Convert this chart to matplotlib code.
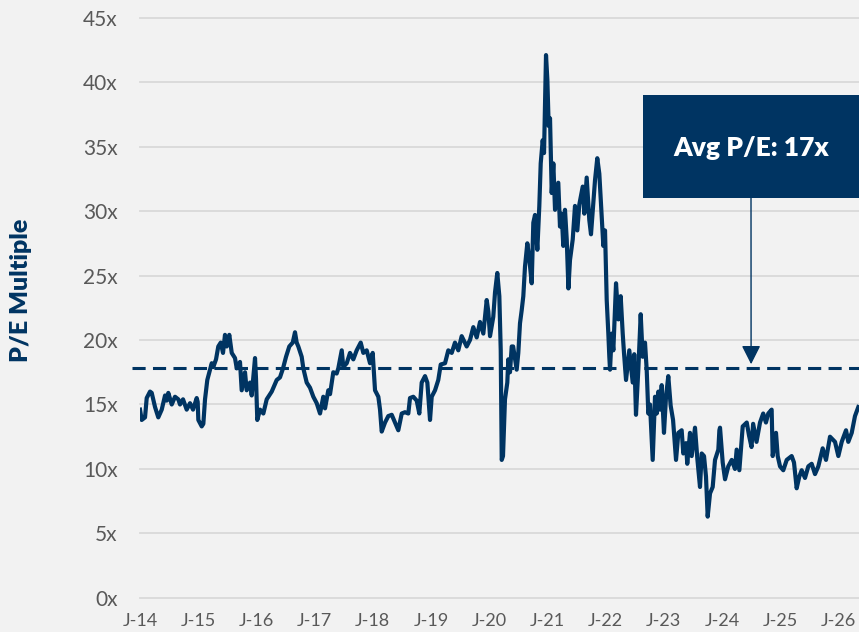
import matplotlib
matplotlib.use("Agg")
import matplotlib.pyplot as plt
from matplotlib.patches import Rectangle

plt.rcParams["font.family"] = ["Lato", "DejaVu Sans"]

NAVY = "#003462"
BG = "#f2f2f2"
GRID = "#d9d9d9"
TICK = "#595959"

# forward P/E, decimal year -> multiple
years = [
    2014.000, 2014.029, 2014.086, 2014.115, 2014.172, 2014.201, 2014.258, 2014.314, 2014.373, 2014.430,
    2014.459, 2014.486, 2014.545, 2014.601, 2014.658, 2014.687, 2014.739, 2014.802, 2014.859, 2014.911,
    2014.974, 2014.991, 2015.002, 2015.060, 2015.088, 2015.117, 2015.156, 2015.203, 2015.232, 2015.259,
    2015.306, 2015.345, 2015.387, 2015.426, 2015.460, 2015.490, 2015.534, 2015.576, 2015.632, 2015.662,
    2015.718, 2015.747, 2015.804, 2015.833, 2015.890, 2015.919, 2015.976, 2015.993, 2016.015, 2016.062,
    2016.119, 2016.177, 2016.263, 2016.349, 2016.405, 2016.457, 2016.509, 2016.565, 2016.624, 2016.663,
    2016.692, 2016.720, 2016.778, 2016.806, 2016.864, 2016.921, 2016.978, 2017.036, 2017.093, 2017.149,
    2017.179, 2017.235, 2017.265, 2017.321, 2017.379, 2017.407, 2017.466, 2017.493, 2017.552, 2017.608,
    2017.665, 2017.723, 2017.792, 2017.837, 2017.895, 2017.952, 2017.998, 2018.038, 2018.095, 2018.124,
    2018.153, 2018.210, 2018.266, 2018.325, 2018.381, 2018.438, 2018.497, 2018.553, 2018.610, 2018.639,
    2018.696, 2018.754, 2018.799, 2018.840, 2018.897, 2018.937, 2018.983, 2019.012, 2019.069, 2019.125,
    2019.167, 2019.241, 2019.297, 2019.356, 2019.412, 2019.469, 2019.527, 2019.613, 2019.670, 2019.727,
    2019.785, 2019.842, 2019.899, 2019.957, 2019.985, 2020.014, 2020.070, 2020.100, 2020.139, 2020.174,
    2020.198, 2020.215, 2020.237, 2020.271, 2020.311, 2020.328, 2020.357, 2020.387, 2020.411, 2020.431,
    2020.472, 2020.500, 2020.529, 2020.558, 2020.586, 2020.615, 2020.655, 2020.689, 2020.730, 2020.758,
    2020.787, 2020.827, 2020.861, 2020.885, 2020.919, 2020.942, 2020.976, 2020.999, 2021.022, 2021.045,
    2021.074, 2021.102, 2021.131, 2021.187, 2021.216, 2021.245, 2021.273, 2021.302, 2021.332, 2021.361,
    2021.388, 2021.435, 2021.474, 2021.514, 2021.548, 2021.607, 2021.634, 2021.675, 2021.720, 2021.749,
    2021.789, 2021.818, 2021.857, 2021.892, 2021.921, 2021.961, 2021.990, 2022.019, 2022.047, 2022.064,
    2022.076, 2022.105, 2022.133, 2022.179, 2022.219, 2022.259, 2022.294, 2022.316, 2022.351, 2022.407,
    2022.466, 2022.492, 2022.522, 2022.562, 2022.603, 2022.637, 2022.677, 2022.706, 2022.734, 2022.763,
    2022.809, 2022.849, 2022.878, 2022.907, 2022.935, 2022.964, 2023.003, 2023.038, 2023.077, 2023.118,
    2023.159, 2023.210, 2023.250, 2023.307, 2023.335, 2023.381, 2023.403, 2023.450, 2023.479, 2023.536,
    2023.576, 2023.622, 2023.651, 2023.691, 2023.725, 2023.754, 2023.794, 2023.840, 2023.880, 2023.937,
    2023.955, 2023.966, 2024.012, 2024.052, 2024.108, 2024.167, 2024.223, 2024.252, 2024.298, 2024.356,
    2024.425, 2024.464, 2024.507, 2024.535, 2024.593, 2024.653, 2024.708, 2024.755, 2024.795, 2024.853,
    2024.871, 2024.928, 2024.957, 2024.997, 2025.053, 2025.112, 2025.197, 2025.237, 2025.283, 2025.328,
    2025.369, 2025.426, 2025.483, 2025.541, 2025.598, 2025.655, 2025.730, 2025.787, 2025.856, 2025.942,
    2025.999, 2026.057, 2026.131, 2026.170, 2026.229, 2026.285, 2026.342,
]
pe = [
    14.6, 13.8, 14.0, 15.5, 16.0, 15.9, 14.8, 14.0, 14.6, 15.7,
    15.3, 15.9, 15.0, 15.6, 15.4, 15.0, 15.4, 14.6, 15.1, 14.6,
    15.5, 15.2, 13.8, 13.3, 13.5, 15.4, 16.9, 17.7, 18.2, 17.9,
    18.5, 19.5, 19.8, 19.0, 20.4, 19.5, 20.4, 19.0, 18.6, 17.8,
    18.3, 16.1, 17.5, 16.1, 16.7, 15.7, 18.6, 17.0, 13.8, 14.6,
    14.3, 15.4, 16.0, 16.9, 17.1, 17.8, 18.7, 19.5, 19.8, 20.6,
    19.8, 19.5, 18.7, 17.8, 16.7, 16.3, 15.6, 15.1, 14.3, 15.6,
    14.7, 16.1, 15.8, 17.5, 17.4, 17.8, 19.2, 17.9, 18.2, 19.0,
    18.5, 19.2, 19.8, 19.0, 19.2, 18.2, 19.0, 16.1, 15.6, 14.6,
    12.9, 13.6, 14.1, 14.2, 13.6, 13.0, 14.3, 14.4, 14.3, 15.5,
    15.6, 15.3, 14.3, 16.7, 17.2, 16.7, 13.8, 15.6, 16.1, 16.9,
    18.1, 18.2, 19.2, 19.0, 19.8, 19.2, 20.3, 19.5, 20.0, 21.0,
    20.2, 21.4, 20.5, 23.1, 22.2, 20.3, 21.8, 23.7, 25.2, 23.4,
    19.2, 10.7, 11.0, 15.4, 16.7, 18.5, 17.5, 19.5, 19.5, 18.9,
    17.7, 19.0, 21.3, 22.3, 23.4, 25.7, 27.5, 26.3, 24.4, 29.1,
    29.7, 27.0, 30.4, 33.7, 35.5, 34.5, 42.1, 40.2, 36.6, 37.2,
    31.4, 33.7, 30.1, 32.2, 28.8, 29.8, 27.3, 30.1, 27.8, 24.0,
    26.2, 27.8, 30.4, 28.5, 30.5, 31.9, 29.8, 32.6, 29.3, 28.2,
    30.7, 32.4, 34.1, 32.9, 30.6, 27.3, 28.5, 23.1, 20.5, 18.7,
    17.7, 20.5, 19.2, 24.4, 21.6, 23.4, 20.5, 19.0, 16.9, 19.2,
    16.7, 18.9, 14.2, 17.7, 22.0, 18.7, 19.8, 17.7, 14.3, 15.0,
    10.7, 15.6, 14.3, 16.0, 14.6, 16.5, 12.8, 15.6, 17.2, 14.9,
    13.8, 10.7, 12.8, 13.0, 11.2, 12.0, 10.4, 12.8, 11.0, 13.2,
    10.8, 8.6, 11.2, 11.0, 9.4, 6.3, 8.1, 8.6, 10.7, 11.5,
    13.0, 13.2, 10.5, 9.2, 10.2, 10.7, 10.0, 11.5, 9.9, 13.3,
    13.6, 12.6, 11.7, 13.5, 12.1, 13.6, 14.3, 13.6, 14.3, 14.6,
    11.0, 12.8, 11.0, 10.2, 9.9, 10.7, 11.0, 10.5, 8.5, 9.4,
    9.9, 9.3, 10.2, 10.4, 9.6, 10.2, 11.6, 10.7, 12.5, 12.1,
    11.0, 12.1, 13.0, 12.1, 12.8, 14.1, 14.8,
]

avg_pe = 17.8
year_ticks = list(range(2014, 2027))
pe_ticks = list(range(0, 46, 5))

fig = plt.figure(figsize=(8.59, 6.32), dpi=100, facecolor=BG)
ax = fig.add_axes([0.163, 0.054, 0.837, 0.918], facecolor=BG)

ax.plot(years, pe, color=NAVY, lw=3.0, solid_joinstyle="round")

x_end = 2026.354
ax.plot([2013.86, x_end], [avg_pe, avg_pe], color=NAVY, lw=2.2,
        dashes=(4.3, 2.4), clip_on=False)

ax.set_xlim(2014, x_end)
ax.set_ylim(0, 45)
ax.set_yticks(pe_ticks)
ax.set_yticklabels([f"{v}x" for v in pe_ticks])
ax.set_xticks(year_ticks)
ax.set_xticklabels([f"J-{y % 100}" for y in year_ticks])
ax.tick_params(axis="y", length=0, pad=16, labelsize=15, labelcolor=TICK)
ax.tick_params(axis="x", length=0, pad=11, labelsize=13, labelcolor=TICK)

ax.yaxis.grid(True, color=GRID, lw=1.3)
ax.set_axisbelow(True)
for gl in ax.get_ygridlines():
    gl.set_clip_on(False)
for s in ax.spines.values():
    s.set_visible(False)

fig.text(0.0245, 0.541, "P/E Multiple", rotation=90, ha="center", va="center",
         color=NAVY, fontsize=18, fontweight="heavy")

# callout box with arrow down to the average line
ax.add_patch(Rectangle((0.6996, 0.6897), 0.31, 0.1775, transform=ax.transAxes,
                       facecolor=NAVY, edgecolor="none", clip_on=False))
ax.text(0.8498, 0.776, f"Avg P/E: {int(avg_pe)}x", transform=ax.transAxes,
        ha="center", va="center", color="white", fontsize=19, fontweight="heavy")
ax.annotate("", xy=(2024.5, avg_pe), xycoords="data",
            xytext=(0.8498, 0.6897), textcoords="axes fraction",
            arrowprops=dict(arrowstyle="-|>,head_length=1.15,head_width=0.58",
                            mutation_scale=10, color=NAVY, lw=1,
                            shrinkA=0, shrinkB=3))

fig.savefig("out.png", dpi=100, facecolor=BG)
